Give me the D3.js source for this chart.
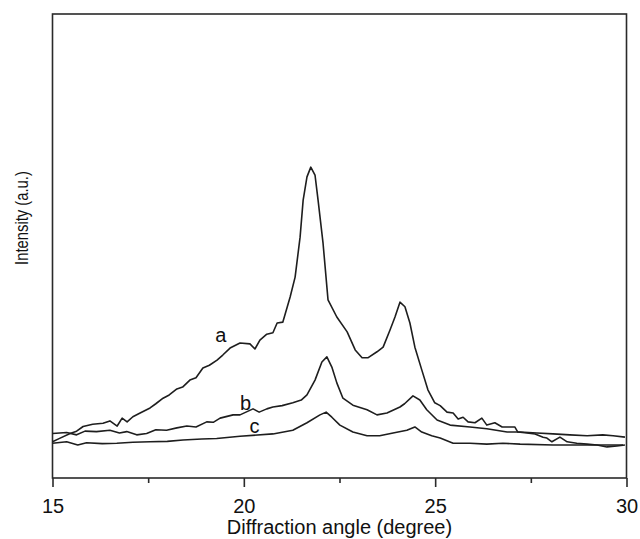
<!DOCTYPE html>
<html>
<head>
<meta charset="utf-8">
<script src="https://cdn.jsdelivr.net/npm/d3@7"></script>
<style>
  body { margin: 0; background: #fff; }
  svg text { font-family: "Liberation Sans", Arial, sans-serif; fill: #111; }
</style>
</head>
<body>
<div class="chart"></div>
<script>
// XRD patterns, intensity in arbitrary units
// each point: [diffraction angle (deg), intensity]
const seriesA = [
  [15.00, 7.8], [15.20, 8.6], [15.46, 9.6], [15.63, 10.1], [15.80, 11.1], [16.05, 11.6],
  [16.32, 11.8], [16.50, 12.3], [16.69, 11.2], [16.82, 12.9], [16.95, 12.1], [17.10, 13.2],
  [17.29, 14.0], [17.55, 15.1], [17.70, 16.0], [17.89, 17.2], [18.05, 17.9], [18.25, 19.2],
  [18.40, 19.6], [18.59, 21.1], [18.75, 21.6], [18.93, 23.7], [19.10, 24.3], [19.30, 25.4],
  [19.45, 26.5], [19.64, 28.0], [19.90, 29.1], [20.16, 28.9], [20.29, 27.8], [20.42, 29.7],
  [20.60, 31.0], [20.76, 31.3], [20.87, 33.4], [21.02, 33.6], [21.21, 39.0], [21.34, 43.3],
  [21.47, 51.9], [21.55, 59.9], [21.65, 64.9], [21.75, 67.0], [21.86, 65.3], [21.94, 59.9],
  [22.07, 50.6], [22.20, 38.4], [22.43, 34.7], [22.70, 31.5], [22.91, 27.6], [23.09, 25.9],
  [23.24, 25.9], [23.48, 27.2], [23.64, 28.2], [23.82, 31.9], [23.95, 34.7], [24.08, 37.9],
  [24.21, 36.9], [24.34, 33.4], [24.47, 28.2], [24.65, 23.3], [24.81, 19.0], [24.99, 16.2],
  [25.13, 15.6], [25.31, 14.2], [25.47, 14.0], [25.60, 12.7], [25.73, 13.1], [25.86, 12.1],
  [26.04, 11.9], [26.22, 12.9], [26.35, 11.4], [26.56, 11.9], [26.75, 11.0], [27.08, 11.0],
  [27.16, 9.9], [27.40, 9.7], [27.61, 9.5], [27.82, 8.8], [27.92, 8.6], [28.05, 7.8],
  [28.26, 8.8], [28.45, 7.8], [28.70, 7.5], [28.97, 7.3], [29.23, 7.1], [29.49, 6.7],
  [29.75, 6.9], [29.96, 7.1]
];

const seriesB = [
  [15.00, 9.6], [15.37, 9.8], [15.63, 9.3], [15.85, 10.1], [16.15, 10.0], [16.50, 10.3],
  [16.75, 9.7], [16.94, 10.0], [17.20, 9.3], [17.46, 9.6], [17.70, 10.4], [17.98, 10.3],
  [18.25, 10.8], [18.51, 11.2], [18.75, 11.0], [19.03, 12.1], [19.20, 12.0], [19.38, 12.9],
  [19.72, 13.6], [19.90, 13.6], [20.24, 14.9], [20.40, 14.2], [20.60, 14.9], [20.76, 15.3],
  [21.00, 15.6], [21.28, 16.2], [21.50, 16.8], [21.65, 17.9], [21.86, 21.1], [22.04, 25.0],
  [22.17, 26.1], [22.30, 23.9], [22.43, 20.5], [22.59, 17.2], [22.85, 15.7], [23.22, 14.7],
  [23.48, 13.6], [23.74, 14.0], [24.08, 15.3], [24.20, 16.0], [24.42, 17.7], [24.60, 16.8],
  [24.78, 14.7], [25.05, 12.5], [25.39, 11.4], [25.91, 11.0], [26.35, 10.6], [26.88, 9.9],
  [27.22, 9.9], [27.66, 9.7], [28.08, 9.5], [28.52, 9.3], [28.97, 9.1], [29.38, 9.3],
  [29.65, 9.1], [29.96, 8.8]
];

const seriesC = [
  [15.00, 7.5], [15.37, 7.8], [15.66, 7.1], [15.89, 7.6], [16.30, 7.4], [16.68, 7.5],
  [17.10, 7.7], [17.55, 7.8], [18.00, 7.9], [18.41, 8.2], [18.90, 8.4], [19.29, 8.5],
  [19.90, 9.0], [20.76, 9.5], [21.28, 10.3], [21.65, 11.9], [21.99, 13.6], [22.15, 14.2],
  [22.30, 13.1], [22.51, 11.4], [22.85, 9.9], [23.22, 9.1], [23.55, 9.1], [23.90, 9.7],
  [24.26, 10.3], [24.47, 11.0], [24.65, 9.9], [24.91, 9.1], [25.13, 8.6], [25.47, 7.5],
  [25.91, 7.5], [26.35, 7.3], [26.77, 7.5], [27.22, 7.3], [28.08, 7.1], [28.97, 7.1],
  [29.91, 7.1]
];

// curve labels: [name, angle, intensity] at label baseline start
const curveLabels = [['a', 19.25, 29.3], ['b', 19.90, 14.7], ['c', 20.15, 9.7]];

const majorTicks = [15, 20, 25, 30];
const minorTicks = [17.5, 22.5, 27.5];

const width = 640;
const height = 539;
const margin = { top: 14, right: 13.5, bottom: 61, left: 52.5 };

const xScale = d3.scaleLinear()
  .domain([15, 30])
  .range([margin.left, width - margin.right]);

const yScale = d3.scaleLinear()
  .domain([0, 100])
  .range([height - margin.bottom, margin.top]);

const svg = d3.select('.chart')
  .append('svg')
  .attr('width', width)
  .attr('height', height);

// frame
svg.append('rect')
  .attr('x', margin.left)
  .attr('y', margin.top)
  .attr('width', width - margin.left - margin.right)
  .attr('height', height - margin.top - margin.bottom)
  .attr('fill', 'none')
  .attr('stroke', '#2a2a2a')
  .attr('stroke-width', 1.6);

// x axis, major ticks with labels
const xAxis = d3.axisBottom(xScale)
  .tickValues(majorTicks)
  .tickSize(9)
  .tickPadding(12)
  .tickFormat(d3.format('d'));

const gx = svg.append('g')
  .attr('transform', `translate(0, ${height - margin.bottom})`)
  .call(xAxis);
gx.select('.domain').remove();
gx.selectAll('line').attr('stroke', '#2a2a2a').attr('stroke-width', 1.6);
gx.selectAll('text')
  .style('font-size', '20px')
  .style('font-family', '"Liberation Sans", Arial, sans-serif')
  .attr('fill', '#111');

// minor ticks
const gxMinor = svg.append('g')
  .attr('transform', `translate(0, ${height - margin.bottom})`)
  .call(d3.axisBottom(xScale).tickValues(minorTicks).tickSize(5).tickFormat(''));
gxMinor.select('.domain').remove();
gxMinor.selectAll('line').attr('stroke', '#2a2a2a').attr('stroke-width', 1.6);

const line = d3.line()
  .x(d => xScale(d[0]))
  .y(d => yScale(d[1]));

[seriesA, seriesB, seriesC].forEach(series => {
  svg.append('path')
    .attr('fill', 'none')
    .attr('stroke', '#1e1e1e')
    .attr('stroke-width', 1.6)
    .attr('stroke-linejoin', 'round')
    .attr('d', line(series));
});

svg.selectAll('.curve-label')
  .data(curveLabels)
  .enter()
  .append('text')
  .attr('class', 'curve-label')
  .attr('x', d => xScale(d[1]))
  .attr('y', d => yScale(d[2]))
  .style('font-size', '20px')
  .text(d => d[0]);

// axis titles
svg.append('text')
  .attr('x', (margin.left + width - margin.right) / 2)
  .attr('y', 534)
  .attr('text-anchor', 'middle')
  .style('font-size', '20px')
  .text('Diffraction angle (degree)');

svg.append('text')
  .attr('transform', 'translate(28, 218) rotate(-90) scale(0.78, 1)')
  .attr('text-anchor', 'middle')
  .style('font-size', '19px')
  .text('Intensity (a.u.)');
</script>
</body>
</html>
